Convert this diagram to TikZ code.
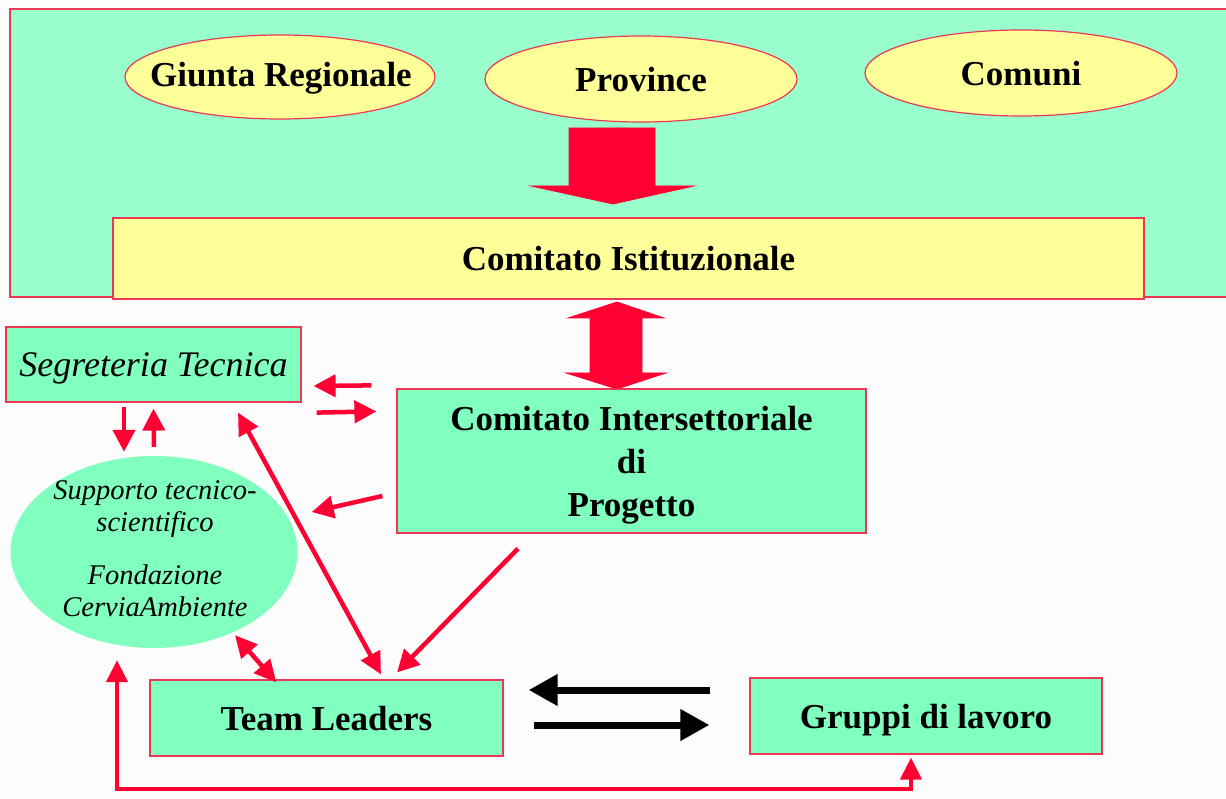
\documentclass[tikz,border=0pt]{standalone}
\usepackage{fontspec}
\setmainfont{Liberation Serif}
\usetikzlibrary{arrows.meta,shapes.geometric}
\definecolor{rd}{RGB}{255,0,51}
\definecolor{bord}{RGB}{238,55,85}
\definecolor{mintA}{RGB}{153,255,204}
\definecolor{mintB}{RGB}{128,255,191}
\definecolor{yel}{RGB}{255,255,153}
\definecolor{bg}{RGB}{252,252,252}
\begin{document}
\begin{tikzpicture}[x=1pt,y=-1pt,
  bigtext/.style={font=\fontsize{35}{43}\selectfont\bfseries},
  itext/.style={font=\fontsize{36}{43}\selectfont\itshape},
  stext/.style={font=\fontsize{28.5}{32}\selectfont\itshape},
  boxA/.style={draw=bord,line width=1.2pt,fill=mintB,inner sep=0pt,text depth=0pt},
  ellY/.style={ellipse,draw=bord,line width=1.2pt,fill=yel,inner sep=0pt},
  rarr/.style={draw=rd,line width=4.5pt,-{Triangle[length=22pt,width=22pt]}},
  rdbl/.style={draw=rd,line width=4.5pt,{Triangle[length=22pt,width=21pt]}-{Triangle[length=22pt,width=21pt]}},
  barr/.style={draw=black,line width=7pt,-{Triangle[length=29pt,width=30pt]}},
  fatarrow/.style={fill=rd,draw=rd,line width=0.8pt,line join=miter}
]
\useasboundingbox (0,0) rectangle (1226,799);
\clip (0,0) rectangle (1226,799);
\fill[bg] (0,0) rectangle (1226,799);

% top region
\draw[fill=mintA,draw=bord,line width=1.2pt] (10,9) rectangle (1250,297);

\node[ellY,minimum width=310pt,minimum height=84pt] (giunta) at (280,77) {};
\node[bigtext] (giuntat) at (281,78) {Giunta Regionale};
\node[ellY,minimum width=312pt,minimum height=86pt] (prov) at (641,79) {};
\node[bigtext] (provt) at (641,80) {Province};
\node[ellY,minimum width=312pt,minimum height=86pt] (comuni) at (1021,73) {};
\node[bigtext] (comunit) at (1021,74) {Comuni};

\node[draw=bord,line width=1.2pt,fill=yel,inner sep=0pt,minimum width=1031pt,minimum height=81pt,bigtext] (cist) at (628.5,258.5) {Comitato Istituzionale};

% big down arrow
\path[fatarrow] (569,128) -- (655,128) -- (655,186) -- (694,186) -- (613,204) -- (531,186) -- (569,186) -- cycle;

% vertical double arrow
\path[fatarrow] (617,302) -- (664,318) -- (642,318) -- (642,373) -- (666,373) -- (617,389) -- (566,373) -- (590,373) -- (590,318) -- (568,318) -- cycle;

\node[boxA,minimum width=295pt,minimum height=75pt,itext] (seg) at (153.5,364.5) {Segreteria Tecnica};
\node[boxA,minimum width=469pt,minimum height=144pt,bigtext,align=center] (cint) at (631.5,461) {Comitato Intersettoriale\\di\\Progetto};
\node[boxA,minimum width=353pt,minimum height=76pt,bigtext] (team) at (326.5,718) {Team Leaders};
\node[boxA,minimum width=352pt,minimum height=76pt,bigtext] (gruppi) at (926,716) {Gruppi di lavoro};

\node[ellipse,fill=mintB,inner sep=0pt,minimum width=287pt,minimum height=192pt] (sup) at (154,552) {};
\node[stext,align=center,text depth=0pt] (suptext) at (155,549) {Supporto tecnico-\\scientifico\\[21pt]Fondazione\\CerviaAmbiente};

% small arrows seg <-> cint
\draw[rarr] ([xshift=-25pt,yshift=3pt]cint.north west) -- ([xshift=12pt,yshift=-21.5pt]seg.east);
\draw[rarr] ([xshift=15pt,yshift=-10pt]seg.south east) -- ([xshift=-20pt,yshift=-23pt]cint.north west);
% cint -> support
\draw[rarr] ([xshift=-14pt,yshift=-35pt]cint.west) -- ([xshift=14pt,yshift=40pt]sup.east);
% seg <-> support
\draw[rarr] ([xshift=-29.5pt,yshift=-4pt]seg.south) -- ([xshift=-30pt,yshift=4pt]sup.north);
\draw[rarr] ([xshift=0pt,yshift=9pt]sup.north) -- ([xshift=0pt,yshift=-6pt]seg.south);
% seg <-> team
\draw[rdbl] ([xshift=84.5pt,yshift=-10pt]seg.south) -- ([xshift=54.5pt,yshift=5pt]team.north);
% cint -> team
\draw[rarr] ([xshift=-113.5pt,yshift=-15pt]cint.south) -- ([xshift=70.5pt,yshift=7pt]team.north);
% support <-> team
\draw[rdbl] ([xshift=81pt,yshift=13pt]sup.south) -- ([xshift=127pt,yshift=-3pt]team.north west);
% bottom loop
\draw[draw=rd,line width=4.5pt,line join=miter,{Triangle[length=22pt,width=21pt]}-{Triangle[length=22pt,width=21pt]}]
  ([xshift=-37pt,yshift=-12pt]sup.south) -- ++(0,129) -| ([xshift=-15pt,yshift=-3pt]gruppi.south);

% black arrows
\draw[barr] ([xshift=-39pt,yshift=26pt]gruppi.west) -- ([xshift=25pt,yshift=28pt]team.east);
\draw[barr] ([xshift=30pt,yshift=-7pt]team.east) -- ([xshift=-40pt,yshift=-9pt]gruppi.west);
\end{tikzpicture}
\end{document}
